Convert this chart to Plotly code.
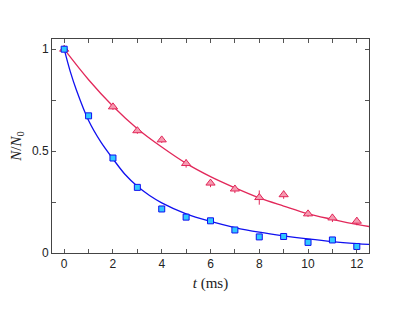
import plotly.graph_objects as go

t_blue = [0, 1, 2, 3, 4, 5, 6, 7, 8, 9, 10, 11, 12]
n_blue = [1.0, 0.673, 0.466, 0.322, 0.216, 0.176, 0.158, 0.113, 0.079, 0.081, 0.052, 0.064, 0.032]
err_blue = [0.01, 0.012, 0.01, 0.01, 0.01, 0.01, 0.01, 0.008, 0.008, 0.008, 0.008, 0.008, 0.008]

t_red = [0, 2, 3, 4, 5, 6, 7, 8, 9, 10, 11, 12]
n_red = [1.0, 0.717, 0.600, 0.555, 0.439, 0.343, 0.314, 0.272, 0.286, 0.192, 0.172, 0.156]
err_red = [0.01, 0.015, 0.015, 0.015, 0.02, 0.02, 0.02, 0.035, 0.02, 0.015, 0.02, 0.02]

# fit curves
t_fit_blue = [0, 0.25, 0.5, 1, 1.5, 2, 2.5, 3, 3.5, 4, 5, 6, 7, 8, 9, 10, 11, 12, 12.5]
n_fit_blue = [1.0, 0.89, 0.80, 0.65, 0.545, 0.462, 0.385, 0.327, 0.282, 0.246, 0.192, 0.155, 0.125, 0.102, 0.084, 0.069, 0.056, 0.046, 0.042]

t_fit_red = [0, 1, 2, 3, 4, 5, 6, 7, 8, 9, 10, 11, 12, 12.5]
n_fit_red = [1.0, 0.85, 0.72, 0.61, 0.52, 0.44, 0.375, 0.32, 0.27, 0.23, 0.192, 0.165, 0.14, 0.13]

# tick labels
x_tickvals = [0, 2, 4, 6, 8, 10, 12]
x_ticktext = ["0", "2", "4", "6", "8", "10", "12"]
y_tickvals = [0, 0.5, 1]
y_ticktext = ["0", "0.5", "1"]

RED = "#e2285a"
RED_FILL = "#f59ab0"
BLUE = "#1010f0"
BLUE_FILL = "#30c8ff"

fig = go.Figure()
fig.add_trace(go.Scatter(x=t_fit_red, y=n_fit_red, mode="lines", line=dict(color=RED, width=1.3, shape="spline"), showlegend=False))
fig.add_trace(go.Scatter(x=t_fit_blue, y=n_fit_blue, mode="lines", line=dict(color=BLUE, width=1.3, shape="spline"), showlegend=False))
fig.add_trace(go.Scatter(x=t_red, y=n_red, mode="markers",
                         error_y=dict(type="data", array=err_red, color=RED, thickness=1, width=0),
                         marker=dict(symbol="triangle-up", size=8, color=RED_FILL, line=dict(color=RED, width=1)),
                         showlegend=False))
fig.add_trace(go.Scatter(x=t_blue, y=n_blue, mode="markers",
                         error_y=dict(type="data", array=err_blue, color=BLUE, thickness=1, width=0),
                         marker=dict(symbol="square", size=6, color=BLUE_FILL, line=dict(color=BLUE, width=1)),
                         showlegend=False))

axis_common = dict(showline=True, linecolor="#444", linewidth=1, mirror="ticks", ticks="inside",
                   ticklen=4, tickcolor="#555", showgrid=False, zeroline=False, automargin=False,
                   tickfont=dict(family="Liberation Sans, Arial, sans-serif", size=12, color="#222"))

fig.update_layout(
    width=407, height=315,
    margin=dict(l=44, r=46, t=31, b=70),
    paper_bgcolor="white", plot_bgcolor="white",
    xaxis=dict(range=[-0.5, 12.5], tickmode="array", tickvals=x_tickvals, ticktext=x_ticktext,
               minor=dict(tickmode="linear", tick0=0, dtick=1, ticks="inside", ticklen=4, tickcolor="#555"),
               title=dict(text="<i>t</i> (ms)", font=dict(family="Liberation Serif, DejaVu Serif, serif", size=15, color="#222"), standoff=7),
               **axis_common),
    yaxis=dict(range=[0, 1.05], tickmode="array", tickvals=y_tickvals, ticktext=y_ticktext,
               minor=dict(tickmode="linear", tick0=0, dtick=0.25, ticks="inside", ticklen=4, tickcolor="#555"),
               title=dict(text="<i>N</i>/<i>N</i><sub>0</sub>", font=dict(family="Liberation Serif, DejaVu Serif, serif", size=15, color="#222"), standoff=6),
               **axis_common),
)

fig.write_html("out.html")
